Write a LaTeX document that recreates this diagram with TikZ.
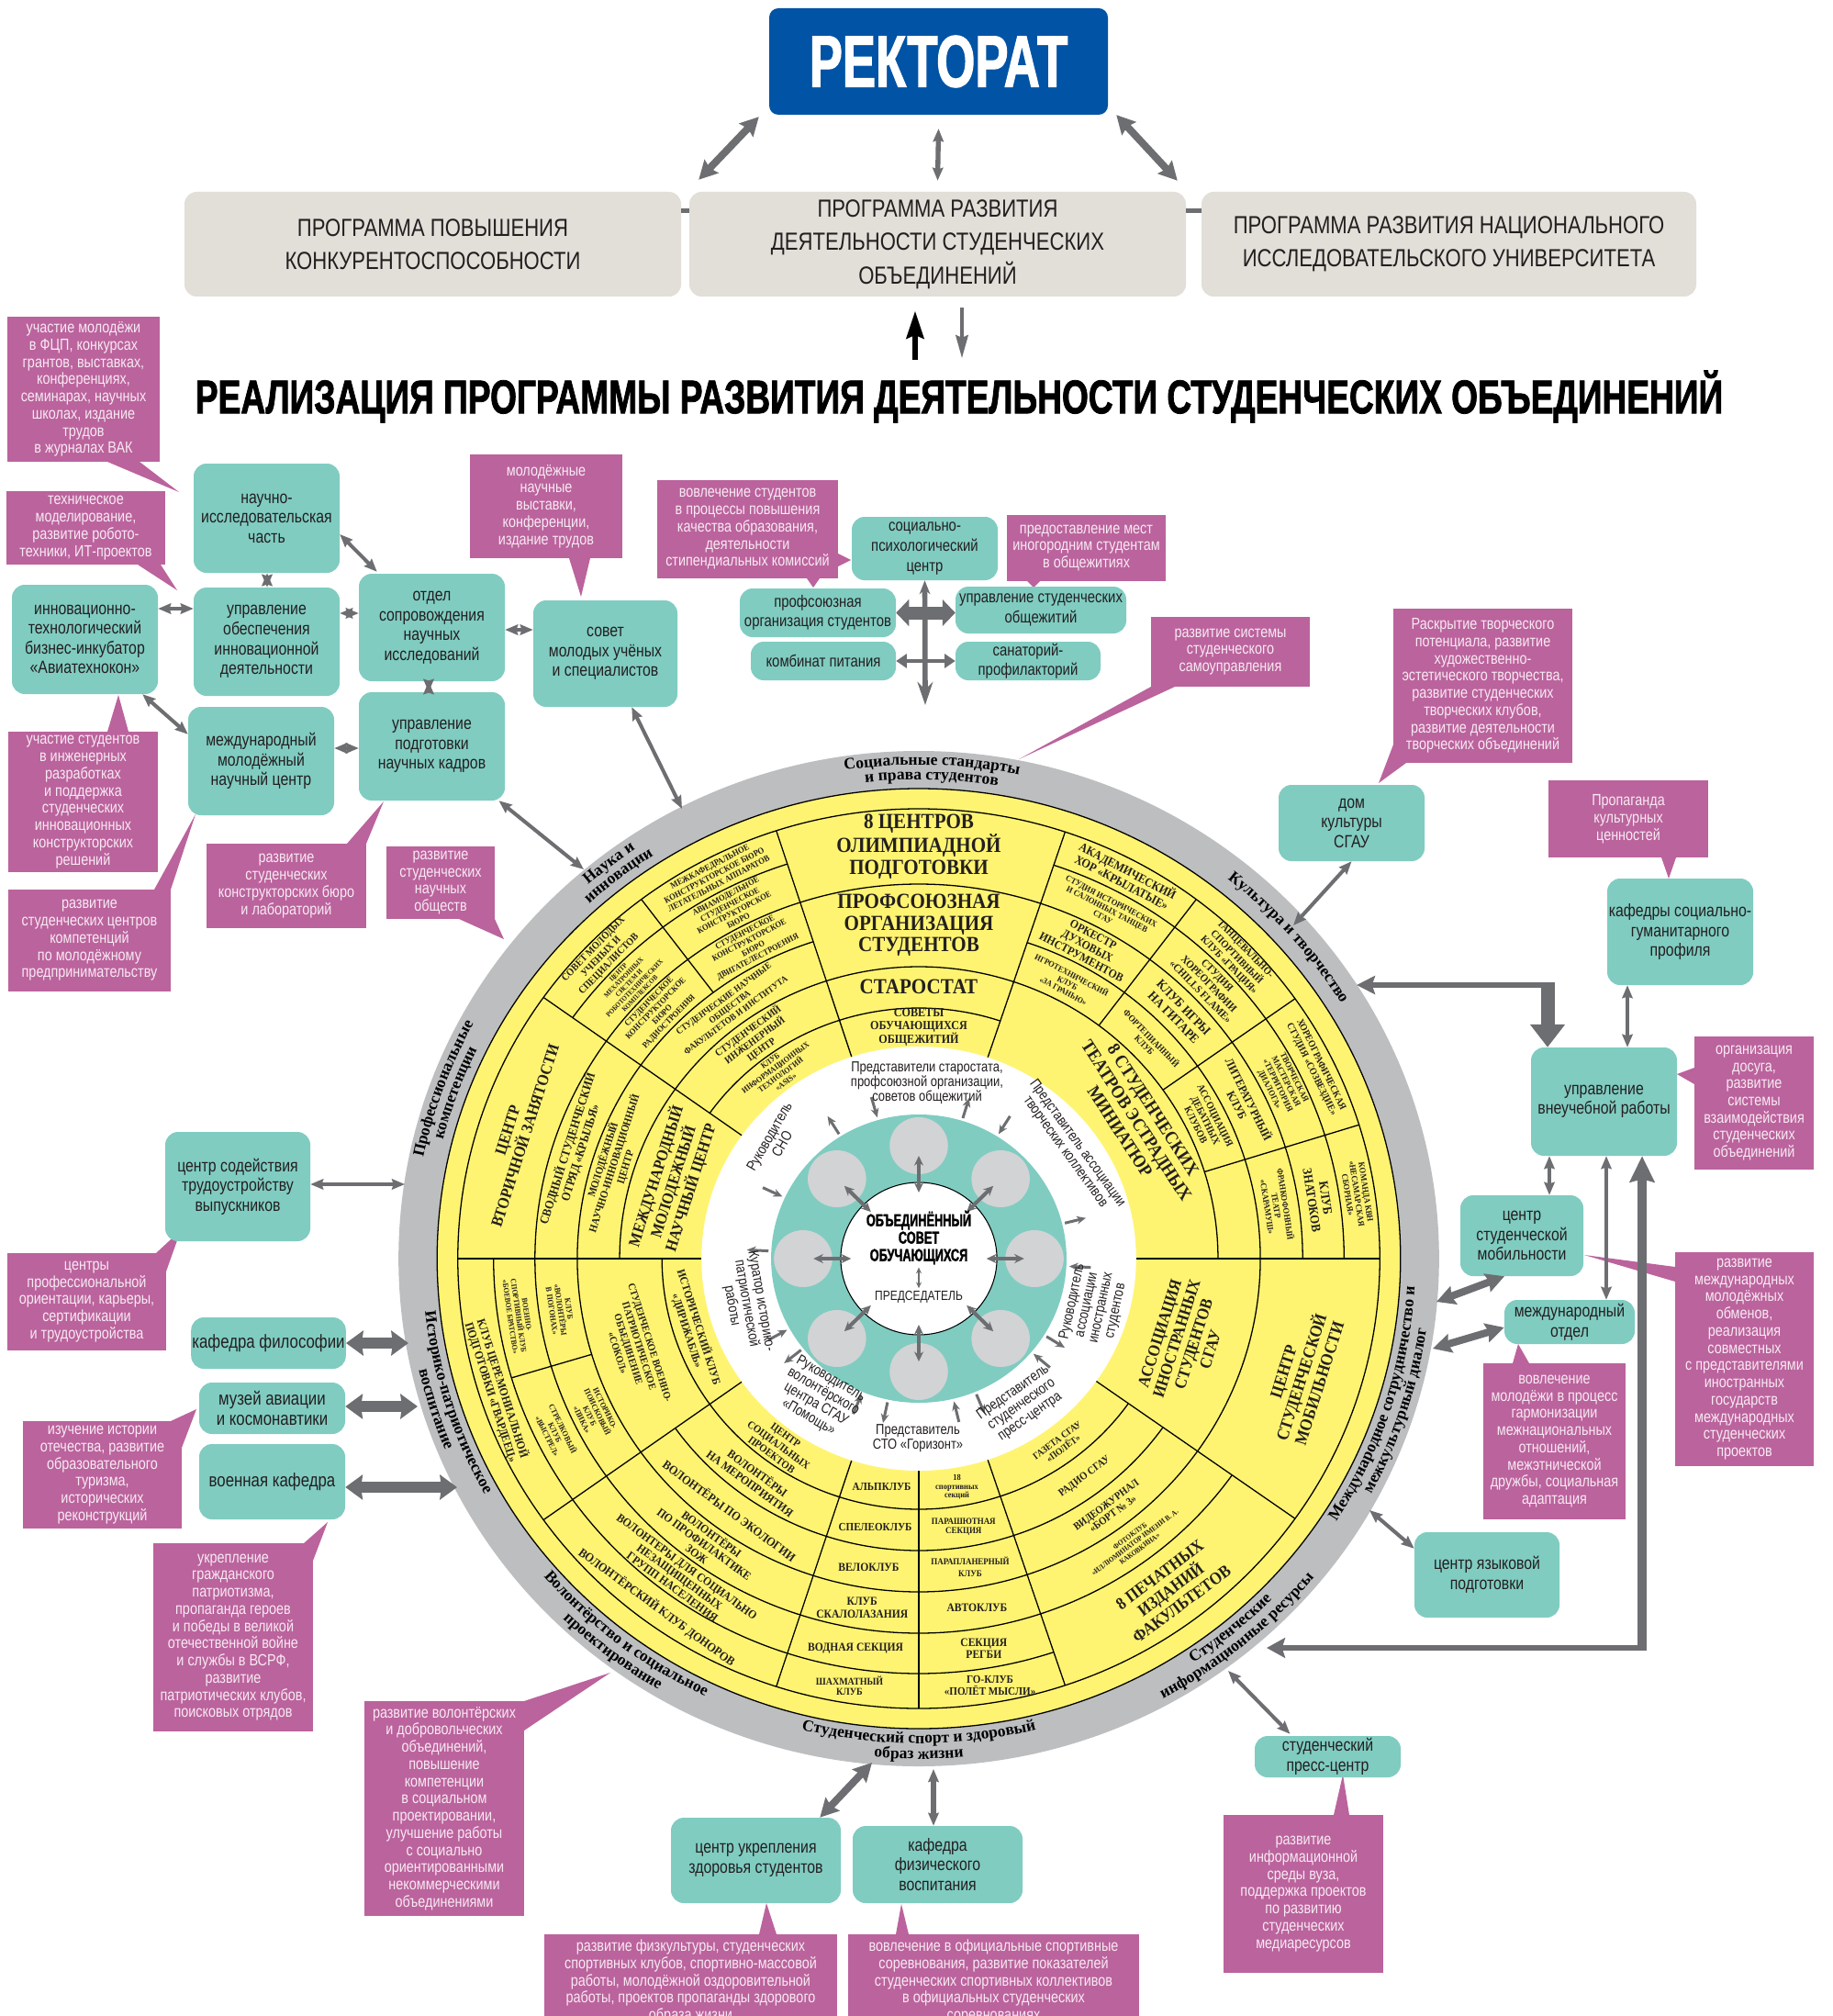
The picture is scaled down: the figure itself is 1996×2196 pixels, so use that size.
\documentclass[tikz,border=0pt]{standalone}
\usepackage{fontspec}
\setmainfont{Liberation Sans}[FakeStretch=0.82]
\newfontfamily\headfont{Liberation Sans}[FakeStretch=0.68,BoldFeatures={FakeBold=1.5}]
\newfontfamily\titfont{Liberation Sans}[FakeStretch=0.72,BoldFeatures={FakeBold=1.5}]
\newfontfamily\serfont{Liberation Serif}[FakeStretch=0.9]
\newfontfamily\ringfont{Liberation Serif}
\usetikzlibrary{arrows.meta,decorations.text}
\definecolor{teal1}{HTML}{80CCC1}
\definecolor{mag}{HTML}{BB639D}
\definecolor{magtxt}{HTML}{F7E9F2}
\definecolor{agrey}{HTML}{6D6E71}
\definecolor{ringg}{HTML}{BCBEC0}
\definecolor{yel}{HTML}{FFF471}
\definecolor{pgrey}{HTML}{E2DED8}
\definecolor{rblue}{HTML}{0153A5}
\definecolor{cgrey}{HTML}{D1D3D4}
\definecolor{ink}{HTML}{231F20}
\tikzset{
 tealbox/.style={fill=teal1,rounded corners=0.42cm,align=center,text=ink,inner sep=1pt,font=\fontsize{16.5}{18.4}\selectfont},
 magbox/.style={fill=mag,align=center,text=magtxt,inner sep=1pt,font=\fontsize{15}{16}\selectfont},
 pbox/.style={fill=pgrey,rounded corners=0.4cm,align=center,text=ink,inner sep=1pt,font=\fontsize{23}{31}\selectfont},
 arr/.style={draw=agrey,line width=0.12cm,{Stealth[length=0.42cm,width=0.34cm,inset=0.05cm]}-{Stealth[length=0.42cm,width=0.34cm,inset=0.05cm]}},
 arrM/.style={draw=agrey,line width=0.24cm,{Stealth[length=0.6cm,width=0.62cm,inset=0.08cm]}-{Stealth[length=0.6cm,width=0.62cm,inset=0.08cm]}},
 arrT/.style={draw=agrey,line width=0.38cm,{Stealth[length=0.56cm,width=0.8cm,inset=0.05cm]}-{Stealth[length=0.56cm,width=0.8cm,inset=0.05cm]}},
 sin/.style={draw=agrey,line width=0.09cm,{Stealth[length=0.3cm,width=0.26cm]}-},
 sout/.style={draw=agrey,line width=0.09cm,-{Stealth[length=0.3cm,width=0.26cm]}},
 darr/.style={draw=agrey,line width=0.12cm,{Stealth[length=0.32cm,width=0.3cm]}-{Stealth[length=0.32cm,width=0.3cm]}},
 cline/.style={draw=black,line width=1.1pt},
 ctx/.style={align=center,inner sep=0pt,text=ink},
 wr/.style={align=center,inner sep=0pt,text=ink,font=\fontsize{13.5}{13.7}\selectfont}
}
\newcounter{tn}
\newcommand\cu[5]{\stepcounter{tn}\node[ctx,rotate={#1-90},font=\serfont\bfseries\fontsize{#3}{#4}\selectfont] (ct\arabic{tn}) at (#1:#2) {#5};}
\newcommand\cl[5]{\stepcounter{tn}\node[ctx,rotate={#1+90},font=\serfont\bfseries\fontsize{#3}{#4}\selectfont] (ct\arabic{tn}) at (#1:#2) {#5};}
\newcommand\ch[5]{\stepcounter{tn}\node[ctx,font=\serfont\bfseries\fontsize{#3}{#4}\selectfont] (ct\arabic{tn}) at (#1:#2) {#5};}
\newcommand\arcr[3]{\draw[cline] (#1:#3) arc[start angle=#1,end angle=#2,radius=#3];}
\newcommand\tb[7][]{\node[tealbox,#1,minimum width={(#5-#3)*0.03cm},minimum height={(#6-#4)*0.03cm}] (#2) at ({(#3+#5)/2},{(#4+#6)/2}) {#7};}
\newcommand\mb[7][]{\node[magbox,#1,minimum width={(#5-#3)*0.03cm},minimum height={(#6-#4)*0.03cm}] (#2) at ({(#3+#5)/2},{(#4+#6)/2}) {#7};}
\newcommand\ptr[6]{\fill[mag] (#1,#2) -- (#3,#4) -- (#5,#6) -- cycle;}
\newcommand\rfont{\ringfont\bfseries\fontsize{15}{15}\selectfont}
\newcommand\rlab[4]{\pgfmathsetmacro\rx{1.025*#3*0.03}\pgfmathsetmacro\ry{#3*0.03}%
 \path[decorate,decoration={text along path,text align=center,text={|\rfont|#4}}] ([shift={(1001,1371)}]#1:\rx cm and \ry cm) arc[start angle=#1,end angle=#2,x radius=\rx cm,y radius=\ry cm];}
\begin{document}
\begin{tikzpicture}[x=0.03cm,y=-0.03cm]
\useasboundingbox (0,0) rectangle (1996,2196);
\clip (0,0) rectangle (1996,2196);
\fill[white] (0,0) rectangle (1996,2196);

% ---------- top ----------
\node[fill=rblue,rounded corners=0.3cm,minimum width={369*0.03cm},minimum height={116*0.03cm},inner sep=0,text=white,font=\headfont\bfseries\fontsize{68}{68}\selectfont] (rk) at (1022.5,67) {РЕКТОРАТ};
\node[pbox,minimum width={541*0.03cm},minimum height={114*0.03cm}] (p1) at (471.5,266) {ПРОГРАММА ПОВЫШЕНИЯ\\КОНКУРЕНТОСПОСОБНОСТИ};
\node[pbox,minimum width={541*0.03cm},minimum height={114*0.03cm}] (p2) at (1021.5,266) {ПРОГРАММА РАЗВИТИЯ\\ДЕЯТЕЛЬНОСТИ СТУДЕНЧЕСКИХ\\ОБЪЕДИНЕНИЙ};
\node[pbox,minimum width={539*0.03cm},minimum height={114*0.03cm}] (p3) at (1578.5,266) {ПРОГРАММА РАЗВИТИЯ НАЦИОНАЛЬНОГО\\ИССЛЕДОВАТЕЛЬСКОГО УНИВЕРСИТЕТА};
\draw[agrey,line width=0.15cm] (p1.east |- 0,230) -- (p2.west |- 0,230);
\draw[agrey,line width=0.15cm] (p2.east |- 0,230) -- (p3.west |- 0,230);
\draw[arrM] ([shift={(-11,2)}]rk.south west) -- ([shift={(19,-13)}]p1.north east);
\draw[arr,line width=0.16cm] ([shift={(0,15)}]rk.south) -- ([shift={(0,-12)}]p2.north);
\draw[arrM] ([shift={(9,0)}]rk.south east) -- ([shift={(-26,-12)}]p3.north west);
\node[inner sep=0,text=black,font=\titfont\bfseries\fontsize{44}{44}\selectfont] (tt) at (1045,432) {РЕАЛИЗАЦИЯ ПРОГРАММЫ РАЗВИТИЯ ДЕЯТЕЛЬНОСТИ СТУДЕНЧЕСКИХ ОБЪЕДИНЕНИЙ};
\draw[black,line width=0.2cm,-{Stealth[length=0.9cm,width=0.55cm,inset=0.1cm]}] ([shift={(-24.5,69)}]p2.south) -- ([shift={(-24.5,15)}]p2.south);
\draw[agrey,line width=0.12cm,-{Stealth[length=0.75cm,width=0.4cm,inset=0.08cm]}] ([shift={(26.5,12)}]p2.south) -- ([shift={(26.5,67)}]p2.south);

% ---------- circle ----------
\begin{scope}[shift={(1001,1371)},xscale=1.025,yscale=-1]
\fill[ringg] (0,0) circle[radius=553];
\fill[yel] (0,0) circle[radius=512];
\draw[cline] (0,0) circle[radius=512];
\draw[cline] (0,0) circle[radius=490];
\foreach \a in {0,71.5,108,144.5,180,215.5,252,288.5,324.7}{\draw[cline] (\a:231) -- (\a:490);}
\draw[cline] (127:363) -- (127:490);
\draw[cline] (196.7:363) -- (196.7:452);
\foreach \a in {53,35.3,17.3}{\draw[cline] (\a:318) -- (\a:490);}
\draw[cline] (270:231) -- (270:490);
\foreach \r in {408,318,273}{\arcr{71.5}{108}{\r}}
\foreach \r in {452,408,363,318,273}{\arcr{108}{144.5}{\r}}
\foreach \r in {408,363,318}{\arcr{144.5}{180}{\r}}
\foreach \r in {452,408,363,273}{\arcr{180}{215.5}{\r}}
\foreach \r in {452,408,363,318,273}{\arcr{215.5}{252}{\r}}
\foreach \r in {452,408,363,318,273}{\arcr{252}{288.5}{\r}}
\foreach \r in {408,363,318,273}{\arcr{288.5}{324.7}{\r}}
\arcr{324.7}{360}{363}
\foreach \r in {452,408,363,318}{\arcr{0}{71.5}{\r}}
\fill[white] (0,0) circle[radius=231];
\fill[teal1] (0,0) circle[radius=157];
\foreach \a in {0,45,...,315}{\fill[cgrey] (\a:123) circle[radius=31];}
\fill[white] (0,0) circle[radius=83];
\draw[black,line width=0.9pt] (0,0) circle[radius=83];
\foreach \a in {0,45,...,315}{\draw[darr] (\a:72) -- (\a:112);}
\foreach \a in {106,155,209,247.6,283.5,319.6,357,58}{\draw[sin] (\a:160) -- (\a:183);}
\foreach \a in {73,122,177,218.5,258,292.5,328,14}{\draw[sout] (\a:160) -- (\a:183);}
% sector 1
\cu{90}{449}{20}{20}{8 ЦЕНТРОВ\\ОЛИМПИАДНОЙ\\ПОДГОТОВКИ}
\cu{90}{363}{20}{20}{ПРОФСОЮЗНАЯ\\ОРГАНИЗАЦИЯ\\СТУДЕНТОВ}
\cu{90}{296}{20}{20}{СТАРОСТАТ}
\cu{90}{252}{11.5}{11.5}{СОВЕТЫ\\ОБУЧАЮЩИХСЯ\\ОБЩЕЖИТИЙ}
% sector 2
\cu{117.5}{471}{8.2}{9}{МЕЖКАФЕДРАЛЬНОЕ\\КОНСТРУКТОРСКОЕ БЮРО\\ЛЕТАТЕЛЬНЫХ АППАРАТОВ}
\cu{117.5}{430}{8}{8.6}{АВИАМОДЕЛЬНОЕ\\СТУДЕНЧЕСКОЕ\\КОНСТРУКТОРСКОЕ\\БЮРО}
\cu{117.5}{385}{8}{8.6}{СТУДЕНЧЕСКОЕ\\КОНСТРУКТОРСКОЕ\\БЮРО\\ДВИГАТЕЛЕСТРОЕНИЯ}
\cu{135.75}{471}{9.5}{10}{СОВЕТ МОЛОДЫХ\\УЧЕНЫХ И\\СПЕЦИАЛИСТОВ}
\cu{135.75}{430}{6.6}{7}{ЦЕНТР\\МЕХАТРОННЫХ\\СИСТЕМ И\\РОБОТОТЕХНИЧЕСКИХ\\КОМПЛЕКСОВ}
\cu{135.75}{385}{8}{8.6}{СТУДЕНЧЕСКОЕ\\КОНСТРУКТОРСКОЕ\\БЮРО\\РАДИОСТРОЕНИЯ}
\cu{126.25}{340}{8.5}{9.5}{СТУДЕНЧЕСКИЕ НАУЧНЫЕ\\ОБЩЕСТВА\\ФАКУЛЬТЕТОВ И ИНСТИТУТА}
\cu{126.25}{295}{9.5}{10.5}{СТУДЕНЧЕСКИЙ\\ИНЖЕНЕРНЫЙ\\ЦЕНТР}
\cu{126.25}{253}{7.6}{8.2}{КЛУБ\\ИНФОРМАЦИОННЫХ\\ТЕХНОЛОГИЙ\\«ASIS»}
% sector 3
\cu{162.25}{449}{15}{17}{ЦЕНТР\\ВТОРИЧНОЙ ЗАНЯТОСТИ}
\cu{162.25}{385}{11.5}{12.5}{СВОДНЫЙ СТУДЕНЧЕСКИЙ\\ОТРЯД «КРЫЛЬЯ»}
\cu{162.25}{340}{10}{11}{МОЛОДЁЖНЫЙ\\НАУЧНО-ИННОВАЦИОННЫЙ\\ЦЕНТР}
\cu{162.25}{274}{15}{17}{МЕЖДУНАРОДНЫЙ\\МОЛОДЕЖНЫЙ\\НАУЧНЫЙ ЦЕНТР}
% sector 4
\cl{197.75}{471}{11}{11.5}{КЛУБ ЦЕРЕМОНИАЛЬНОЙ\\ПОДГОТОВКИ «ГВАРДЕЕЦ»}
\cl{188.35}{430}{7.2}{7.8}{ВОЕННО-\\СПОРТИВНЫЙ КЛУБ\\«БОЕВОЕ БРАТСТВО»}
\cl{188.35}{385}{7.5}{8}{КЛУБ\\«ВОЛОНТЁРЫ\\В ПОГОНАХ»}
\cl{206.1}{430}{7.5}{8}{СТРЕЛКОВЫЙ\\КЛУБ\\«ВЫСТРЕЛ»}
\cl{206.1}{385}{7.5}{8}{ИСТОРИКО-\\ПОИСКОВЫЙ\\КЛУБ\\«ПИКА»}
\cl{197.75}{318}{9.5}{10.5}{СТУДЕНЧЕСКОЕ ВОЕННО-\\ПАТРИОТИЧЕСКОЕ\\ОБЪЕДИНЕНИЕ\\«СОКОЛ»}
\cl{197.75}{252}{10.5}{11.5}{ИСТОРИЧЕСКИЙ КЛУБ\\«ДИРИЖАБЛЬ»}
% sector 5
\cl{233.75}{252}{10}{11}{ЦЕНТР\\СОЦИАЛЬНЫХ\\ПРОЕКТОВ}
\cl{233.75}{296}{11}{12}{ВОЛОНТЁРЫ\\НА МЕРОПРИЯТИЯ}
\cl{233.75}{340}{11.5}{12}{ВОЛОНТЁРЫ ПО ЭКОЛОГИИ}
\cl{233.75}{385}{11}{11.5}{ВОЛОНТЁРЫ\\ПО ПРОФИЛАКТИКЕ\\ЗОЖ}
\cl{233.75}{430}{11}{11.5}{ВОЛОНТЕРЫ ДЛЯ СОЦИАЛЬНО\\НЕЗАЩИЩЕННЫХ\\ГРУПП НАСЕЛЕНИЯ}
\cl{233.75}{471}{11.5}{12}{ВОЛОНТЁРСКИЙ КЛУБ ДОНОРОВ}
% sector 6
\ch{261}{252}{10.5}{11}{АЛЬПКЛУБ}
\ch{261}{296}{10.5}{11}{СПЕЛЕОКЛУБ}
\ch{261}{340}{11}{11}{ВЕЛОКЛУБ}
\ch{261}{385}{11}{11.5}{КЛУБ\\СКАЛОЛАЗАНИЯ}
\ch{261}{430}{11}{11}{ВОДНАЯ СЕКЦИЯ}
\ch{261}{471}{9.5}{10}{ШАХМАТНЫЙ\\КЛУБ}
\ch{279.25}{252}{8}{8}{18\\спортивных\\секций}
\ch{279.25}{296}{8.5}{8.5}{ПАРАШЮТНАЯ\\СЕКЦИЯ}
\ch{279.25}{340}{8.5}{11}{ПАРАПЛАНЕРНЫЙ\\КЛУБ}
\ch{279.25}{385}{11}{11}{АВТОКЛУБ}
\ch{279.25}{430}{11}{11}{СЕКЦИЯ\\РЕГБИ}
\ch{279.25}{471}{10.5}{10.5}{ГО-КЛУБ\\«ПОЛЁТ МЫСЛИ»}
% sector 7
\cl{306.6}{252}{9}{9.5}{ГАЗЕТА СГАУ\\«ПОЛЁТ»}
\cl{306.6}{296}{10}{10}{РАДИО СГАУ}
\cl{306.6}{340}{10}{10.5}{ВИДЕОЖУРНАЛ\\«БОРТ № 3»}
\cl{306.6}{385}{7}{7.5}{ФОТОКЛУБ\\«ИЛЛЮМИНАТОР ИМЕНИ В. А.\\КАКОВКИНА»}
\cl{306.6}{449}{16}{17}{8 ПЕЧАТНЫХ\\ИЗДАНИЙ\\ФАКУЛЬТЕТОВ}
% sector 8
\cl{342.35}{297}{15.5}{16.5}{АССОЦИАЦИЯ\\ИНОСТРАННЫХ\\СТУДЕНТОВ\\СГАУ}
\cl{342.35}{427}{16}{17.5}{ЦЕНТР\\СТУДЕНЧЕСКОЙ\\МОБИЛЬНОСТИ}
% sector 9
\cu{62.25}{471}{11.5}{12}{АКАДЕМИЧЕСКИЙ\\ХОР «КРЫЛАТЫЕ»}
\cu{62.25}{430}{8}{8.6}{СТУДИЯ ИСТОРИЧЕСКИХ\\И САЛОННЫХ ТАНЦЕВ\\СГАУ}
\cu{62.25}{385}{11}{11.8}{ОРКЕСТР\\ДУХОВЫХ\\ИНСТРУМЕНТОВ}
\cu{62.25}{340}{7.8}{8.4}{ИГРОТЕХНИЧЕСКИЙ\\КЛУБ\\«ЗА ГРАНЬЮ»}
\cu{44.15}{471}{9.6}{10.2}{ТАНЦЕВАЛЬНО-\\СПОРТИВНЫЙ\\КЛУБ «ГРАЦИЯ»}
\cu{44.15}{430}{10}{10.8}{СТУДИЯ\\ХОРЕОГРАФИИ\\«CHILLS FLAME»}
\cu{44.15}{385}{12}{13}{КЛУБ ИГРЫ\\НА ГИТАРЕ}
\cu{44.15}{340}{8.5}{9}{ФОРТЕПИАННЫЙ\\КЛУБ}
\cu{26.3}{471}{9.2}{10}{ХОРЕОГРАФИЧЕСКАЯ\\СТУДИЯ «СОЗВЕЗДИЕ»}
\cu{26.3}{430}{8}{8.5}{ТВОРЧЕСКАЯ\\МАСТЕРСКАЯ\\«ТЕРРИТОРИЯ\\ДИАЛОГА»}
\cu{26.3}{385}{11}{12}{ЛИТЕРАТУРНЫЙ\\КЛУБ}
\cu{26.3}{340}{9.5}{10}{АССОЦИАЦИЯ\\ДЕБАТНЫХ\\КЛУБОВ}
\cu{8.65}{471}{8}{8.5}{КОМАНДА КВН\\«НЕСАМАРСКАЯ\\СБОРНАЯ»}
\cu{8.65}{430}{12}{13}{КЛУБ\\ЗНАТОКОВ}
\cu{8.65}{385}{8}{8.5}{ФРАНКОФОННЫЙ\\ТЕАТР\\«СКАРАМУШ»}
\cu{33}{276}{17}{18.5}{8 СТУДЕНЧЕСКИХ\\ТЕАТРОВ ЭСТРАДНЫХ\\МИНИАТЮР}
\end{scope}

% ring labels
\rlab{118.5}{58.5}{538}{Социальные стандарты}
\rlab{118.5}{58.5}{522}{и права студентов}
\rlab{157.6}{97.6}{538}{Наука и}
\rlab{157.6}{97.6}{522}{инновации}
\rlab{190}{130}{538}{Профессиональные}
\rlab{190}{130}{522}{компетенции}
\rlab{71.5}{11.5}{528}{Культура и творчество}
\rlab{167.6}{227.6}{528}{Историко-патриотическое}
\rlab{167.6}{227.6}{545}{воспитание}
\rlab{202.6}{262.6}{528}{Волонтёрство и социальное}
\rlab{202.6}{262.6}{545}{проектирование}
\rlab{240}{300}{528}{Студенческий спорт и здоровый}
\rlab{240}{300}{545}{образ жизни}
\rlab{279.6}{339.6}{528}{Студенческие}
\rlab{279.6}{339.6}{545}{информационные ресурсы}
\rlab{312}{372}{528}{Международное сотрудничество и}
\rlab{312}{372}{545}{межкультурный диалог}

% white ring texts
\node[wr] (w1) at (1010,1180) {Представители старостата,\\профсоюзной организации,\\советов общежитий};
\node[wr,rotate=60] (w2) at (845,1242) {Руководитель\\СНО};
\node[wr,rotate=-54] (w3) at (1167,1250) {Представитель ассоциации\\творческих коллективов};
\node[wr,rotate=78] (w4) at (1192,1423) {Руководитель\\ассоциации\\иностранных\\студентов};
\node[wr,rotate=35] (w5) at (1113,1530) {Представитель\\студенческого\\пресс-центра};
\node[wr] (w6) at (1000,1567) {Представитель\\СТО «Горизонт»};
\node[wr,rotate=-30] (w7) at (893,1523) {Руководитель\\волонтёрского\\центра СГАУ\\«Помощь»};
\node[wr,rotate=-80] (w8) at (813,1420) {Куратор историко-\\патриотической\\работы};
\node[align=center,inner sep=0,text=black,font=\headfont\bfseries\fontsize{16}{16.2}\selectfont] (oso) at (1001,1348) {ОБЪЕДИНЁННЫЙ\\СОВЕТ\\ОБУЧАЮЩИХСЯ};
\node[inner sep=0,text=ink,font=\fontsize{12.5}{13}\selectfont] (pred) at (1001,1413) {ПРЕДСЕДАТЕЛЬ};
\draw[agrey,line width=0.05cm,{Stealth[length=0.2cm,width=0.18cm]}-{Stealth[length=0.2cm,width=0.18cm]}] ([shift={(0,3)}]oso.south) -- ([shift={(0,-3)}]pred.north);

% ---------- coordinates on ring ----------
\coordinate (rNI) at (636,947);
\coordinate (rSMU) at (743,881);
\coordinate (rDK) at (1409,1008);
\coordinate (rK) at (1478,1073);
\coordinate (rCSM) at (1565,1418);
\coordinate (rMO) at (1561,1469);
\coordinate (rCYP) at (1492,1645);
\coordinate (rIR) at (1380,1795);
\coordinate (rPC) at (1338,1820);
\coordinate (rSP1) at (950,1920);
\coordinate (rSP2) at (1017,1927);
\coordinate (rCST) at (441,1290);
\coordinate (rKF) at (445,1463);
\coordinate (rMAK) at (455,1532);
\coordinate (rVK) at (498,1620);
\coordinate (crossB) at (1008,768);
\coordinate (kB) at (1686,1073);
\coordinate (bB) at (1789,1795);

% ---------- pointers ----------
\ptr{117}{503}{152}{503}{195}{536}
\ptr{150}{615}{175}{615}{193}{643}
\ptr{117}{797}{140}{797}{129}{757}
\ptr{168}{969}{186}{969}{213}{887}
\ptr{378}{919}{399}{919}{418}{873}
\ptr{500}{1001}{539}{1001}{549}{1023}
\ptr{620}{608}{643}{608}{633}{650}
\ptr{913}{603}{913}{617}{927}{610}
\ptr{879}{630}{893}{630}{886}{640}
\ptr{1119}{633}{1133}{633}{1126}{640}
\ptr{1254}{748}{1280}{748}{1110}{827}
\ptr{1518}{811}{1532}{831}{1502}{853}
\ptr{1810}{934}{1826}{934}{1818}{957}
\ptr{1846}{1163}{1846}{1181}{1827}{1170}
\ptr{1825}{1380}{1825}{1396}{1726}{1367}
\ptr{1648}{1485}{1666}{1485}{1654}{1464}
\ptr{170}{1365}{181}{1385}{197}{1340}
\ptr{186}{1548}{198}{1577}{214}{1535}
\ptr{331}{1681}{341}{1700}{357}{1658}
\ptr{571}{1853}{571}{1885}{665}{1822}
\ptr{827}{2107}{846}{2107}{835}{2073}
\ptr{976}{2107}{990}{2107}{982}{2074}
\ptr{1453}{1977}{1470}{1977}{1463}{1933}

% ---------- teal boxes ----------
\tb{ni}{211}{505}{370}{624}{научно-\\исследовательская\\часть}
\tb{uoid}{211}{640}{370}{758}{управление\\обеспечения\\инновационной\\деятельности}
\tb{inc}{13}{637}{172}{756}{инновационно-\\технологический\\бизнес-инкубатор\\«Авиатехнокон»}
\tb{otd}{391}{625}{550}{742}{отдел\\сопровождения\\научных\\исследований}
\tb{mmnc}{205}{770}{364}{888}{международный\\молодёжный\\научный центр}
\tb{upnk}{391}{754}{550}{872}{управление\\подготовки\\научных кадров}
\tb{smu}{581}{654}{738}{770}{совет\\молодых учёных\\и специалистов}
\tb[font=\fontsize{15.5}{18.4}\selectfont]{spc}{928}{563}{1087}{632}{социально-\\психологический\\центр}
\tb[font=\fontsize{15.5}{18.4}\selectfont]{pos}{806}{641}{976}{694}{профсоюзная\\организация студентов}
\tb[font=\fontsize{15.5}{18.4}\selectfont]{kp}{818}{699}{976}{741}{комбинат питания}
\tb[font=\fontsize{15.5}{18.4}\selectfont]{usob}{1041}{639}{1227}{690}{управление студенческих\\общежитий}
\tb[font=\fontsize{15.5}{18.4}\selectfont]{sp}{1041}{699}{1199}{741}{санаторий-\\профилакторий}
\tb{dk}{1393}{855}{1552}{938}{дом\\культуры\\СГАУ}
\tb{ksg}{1751}{957}{1910}{1073}{кафедры социально-\\гуманитарного\\профиля}
\tb{uvr}{1668}{1141}{1827}{1259}{управление\\внеучебной работы}
\tb{csm}{1591}{1302}{1725}{1390}{центр\\студенческой\\мобильности}
\tb{mo}{1639}{1416}{1781}{1464}{международный\\отдел}
\tb{cyp}{1541}{1669}{1699}{1762}{центр языковой\\подготовки}
\tb{cst}{180}{1233}{338}{1352}{центр содействия\\трудоустройству\\выпускников}
\tb[font=\fontsize{17.5}{19}\selectfont]{kf}{213}{1435}{372}{1491}{кафедра философии}
\tb[font=\fontsize{17.5}{19.5}\selectfont]{mak}{217}{1506}{376}{1562}{музей авиации\\и космонавтики}
\tb[font=\fontsize{17.5}{19}\selectfont]{vk}{217}{1573}{376}{1655}{военная кафедра}
\tb{cuz}{731}{1980}{916}{2073}{центр укрепления\\здоровья студентов}
\tb{kfv}{929}{1989}{1114}{2073}{кафедра\\физического\\воспитания}
\tb{pc}{1367}{1891}{1526}{1936}{студенческий\\пресс-центр}

% ---------- magenta boxes ----------
\mb{m1}{8}{345}{174}{503}{участие молодёжи\\в ФЦП, конкурсах\\грантов, выставках,\\конференциях,\\семинарах, научных\\школах, издание\\трудов\\в журналах ВАК}
\mb{m2}{7}{535}{180}{615}{техническое\\моделирование,\\развитие робото-\\техники, ИТ-проектов}
\mb{m3}{9}{797}{172}{950}{участие студентов\\в инженерных\\разработках\\и поддержка\\студенческих\\инновационных\\конструкторских\\решений}
\mb{m4}{9}{969}{186}{1080}{развитие\\студенческих центров\\компетенций\\по молодёжному\\предпринимательству}
\mb{m5}{225}{919}{399}{1011}{развитие\\студенческих\\конструкторских бюро\\и лабораторий}
\mb{m6}{421}{922}{539}{1001}{развитие\\студенческих\\научных\\обществ}
\mb{m7}{512}{495}{678}{608}{молодёжные\\научные\\выставки,\\конференции,\\издание трудов}
\mb{m8}{716}{523}{913}{630}{вовлечение студентов\\в процессы повышения\\качества образования,\\деятельности\\стипендиальных комиссий}
\mb{m9}{1097}{561}{1270}{633}{предоставление мест\\иногородним студентам\\в общежитиях}
\mb{m10}{1254}{672}{1427}{748}{развитие системы\\студенческого\\самоуправления}
\mb{m11}{1518}{663}{1713}{831}{Раскрытие творческого\\потенциала, развитие\\художественно-\\эстетического творчества,\\развитие студенческих\\творческих клубов,\\развитие деятельности\\творческих объединений}
\mb{m12}{1687}{850}{1861}{934}{Пропаганда\\культурных\\ценностей}
\mb{m13}{1846}{1129}{1976}{1274}{организация\\досуга,\\развитие\\системы\\взаимодействия\\студенческих\\объединений}
\mb{m14}{1825}{1364}{1976}{1597}{развитие\\международных\\молодёжных\\обменов,\\реализация\\совместных\\с представителями\\иностранных\\государств\\международных\\студенческих\\проектов}
\mb{m15}{1616}{1485}{1771}{1655}{вовлечение\\молодёжи в процесс\\гармонизации\\межнациональных\\отношений,\\межэтнической\\дружбы, социальная\\адаптация}
\mb{m16}{8}{1365}{181}{1471}{центры\\профессиональной\\ориентации, карьеры,\\сертификации\\и трудоустройства}
\mb{m17}{25}{1548}{198}{1665}{изучение истории\\отечества, развитие\\образовательного\\туризма,\\исторических\\реконструкций}
\mb{m18}{167}{1681}{341}{1886}{укрепление\\гражданского\\патриотизма,\\пропаганда героев\\и победы в великой\\отечественной войне\\и службы в ВСРФ,\\развитие\\патриотических клубов,\\поисковых отрядов}
\mb{m19}{397}{1853}{571}{2087}{развитие волонтёрских\\и добровольческих\\объединений,\\повышение\\компетенции\\в социальном\\проектировании,\\улучшение работы\\с социально\\ориентированными\\некоммерческими\\объединениями}
\mb{m20}{593}{2107}{912}{2210}{развитие физкультуры, студенческих\\спортивных клубов, спортивно-массовой\\работы, молодёжной оздоровительной\\работы, проектов пропаганды здорового\\образа жизни}
\mb{m21}{924}{2107}{1241}{2210}{вовлечение в официальные спортивные\\соревнования, развитие показателей\\студенческих спортивных коллективов\\в официальных студенческих\\соревнованиях}
\mb{m22}{1333}{1977}{1507}{2149}{развитие\\информационной\\среды вуза,\\поддержка проектов\\по развитию\\студенческих\\медиаресурсов}

% ---------- connectors ----------
\draw[arr] (inc.east |- 0,663) -- (uoid.west |- 0,663);
\draw[arr] (ni.south -| 291,0) -- (uoid.north -| 291,0);
\draw[arr] (uoid.east |- 0,668) -- (otd.west |- 0,668);
\draw[arr] (ni.east |- 0,582) -- ([shift={(20,-2)}]otd.north west);
\draw[arr] (otd.east |- 0,686) -- (smu.west |- 0,686);
\draw[arr] (otd.south -| 467,0) -- (upnk.north -| 467,0);
\draw[arr] ([shift={(-17,0)}]inc.south east) -- ([shift={(0,30)}]mmnc.north west);
\draw[arr] (mmnc.east |- 0,815) -- (upnk.west |- 0,815);
\draw[arr] (upnk) -- (rNI);
\draw[arr] (smu) -- (rSMU);
% social cross
\draw[draw=agrey,line width=0.17cm,{Stealth[length=0.45cm,width=0.35cm]}-{Stealth[length=0.75cm,width=0.5cm]}] (spc.south) -- (crossB);
\draw[draw=agrey,line width=0.42cm,{Stealth[length=0.42cm,width=0.85cm,inset=0cm]}-{Stealth[length=0.42cm,width=0.85cm,inset=0cm]}] (pos.east) -- (usob.west |- pos.east);
\draw[draw=agrey,line width=0.12cm,{Stealth[length=0.35cm,width=0.45cm,inset=0cm]}-{Stealth[length=0.35cm,width=0.45cm,inset=0cm]}] (kp.east) -- (sp.west |- kp.east);
% right side
\draw[arr] (dk.south) -- (rDK);
\draw[arr] (ksg.south -| 1773,0) -- (uvr.north -| 1773,0);
\draw[arr] (uvr.south -| 1688,0) -- (csm.north -| 1688,0);
\draw[arr] (uvr.south -| 1750,0) -- (mo.north -| 1750,0);
\draw[arrM] ([shift={(-19,0)}]csm.south) -- (rCSM);
\draw[arrM] ([shift={(0,6)}]mo.west) -- (rMO);
\draw[arr] (rCYP) -- ([shift={(0,18)}]cyp.north west);
\draw[agrey,line width=0.16cm,{Stealth[length=0.6cm,width=0.6cm,inset=0.1cm]}-] (rK) -- (kB);
\draw[agrey,line width=0.45cm,-{Stealth[length=0.75cm,width=1.1cm,inset=0cm]}] ([shift={(0,-3)}]kB) -- (uvr.north -| kB);
\draw[agrey,line width=0.2cm,{Stealth[length=0.6cm,width=0.65cm,inset=0.1cm]}-] (rIR) -- (bB);
\draw[agrey,line width=0.3cm,-{Stealth[length=0.85cm,width=0.8cm,inset=0.1cm]}] ([shift={(0,3)}]bB) -- (uvr.south -| bB);
% left middle
\draw[arr] (cst.east |- rCST) -- (rCST);
\draw[arrT] (kf.east |- rKF) -- (rKF);
\draw[arrT] (mak.east |- rMAK) -- (rMAK);
\draw[arrT] (vk.east |- rVK) -- (rVK);
% bottom
\draw[arrM] (rSP1) -- ([shift={(-23,0)}]cuz.north east);
\draw[arr,line width=0.16cm] (rSP2) -- (kfv.north -| rSP2);
\draw[arr] (rPC) -- ([shift={(-41,-2)}]pc.north);
\end{tikzpicture}
\end{document}
